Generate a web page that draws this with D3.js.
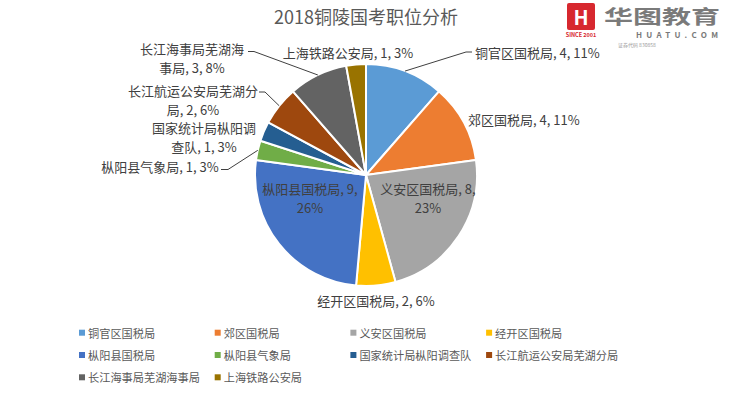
<!DOCTYPE html>
<html><head><meta charset="utf-8">
<script src="https://cdn.jsdelivr.net/npm/d3@7"></script>
<style>
html,body{margin:0;padding:0;background:#fff;}
svg{display:block;font-family:"Noto Sans CJK SC","Noto Sans",sans-serif;}
</style></head>
<body><svg id="c" width="735" height="393"></svg>
<script>
const title = "2018铜陵国考职位分析";
const categories = ["铜官区国税局","郊区国税局","义安区国税局","经开区国税局","枞阳县国税局","枞阳县气象局","国家统计局枞阳调查队","长江航运公安局芜湖分局","长江海事局芜湖海事局","上海铁路公安局"];
const values = [4,4,8,2,9,1,1,2,3,1];
const percents = ["11%","11%","23%","6%","26%","3%","3%","6%","8%","3%"];
const colors = ["#5B9BD5","#ED7D31","#A5A5A5","#FFC000","#4472C4","#70AD47","#255E91","#9E480E","#636363","#997300"];

// label layout (text lines, anchor, leader line)
const labelLayout = [
  {lines:["铜官区国税局, 4, 11%"], x:475, y:52, anchor:"start", leader:[[466,52],[472,52]]},
  {lines:["郊区国税局, 4, 11%"], x:468, y:119, anchor:"start"},
  {lines:["义安区国税局, 8,","23%"], x:428, y:188, anchor:"middle"},
  {lines:["经开区国税局, 2, 6%"], x:376, y:300, anchor:"middle"},
  {lines:["枞阳县国税局, 9,","26%"], x:310, y:188, anchor:"middle"},
  {lines:["枞阳县气象局, 1, 3%"], x:160, y:166, anchor:"middle", leader:[[228,169.5],[221,169.5]]},
  {lines:["国家统计局枞阳调","查队, 1, 3%"], x:204, y:127, anchor:"middle"},
  {lines:["长江航运公安局芜湖分","局, 2, 6%"], x:193, y:90, anchor:"middle", leader:[[265,92],[259,92]]},
  {lines:["长江海事局芜湖海","事局, 3, 8%"], x:192, y:48, anchor:"middle", leader:[[254,51.5],[248,51.5]]},
  {lines:["上海铁路公安局, 1, 3%"], x:348, y:52, anchor:"middle"}
];

const svg = d3.select("#c");
const cx = 366, cy = 175, R = 111;

svg.append("text").attr("x",366).attr("y",24).attr("text-anchor","middle")
  .attr("font-size",18).attr("fill","#595959").text(title);

// logo watermark
const logo = svg.append("g");
logo.append("rect").attr("x",567).attr("y",3).attr("width",28).attr("height",27).attr("rx",2).attr("fill","#D7282F");
logo.append("text").attr("x",581).attr("y",25).attr("text-anchor","middle").attr("font-size",20).attr("font-weight","bold").attr("fill","#fff").text("H");
logo.append("text").attr("x",581).attr("y",37).attr("text-anchor","middle").attr("font-size",5.5).attr("font-weight","bold").attr("fill","#D7282F").text("SINCE 2001");
logo.append("text").attr("x",604).attr("y",24).attr("font-size",19).attr("font-weight","bold").attr("fill","#7a7a7a").attr("textLength",116).attr("lengthAdjust","spacingAndGlyphs").text("华图教育");
logo.append("text").attr("x",636).attr("y",38).attr("font-size",8).attr("font-weight","bold").attr("fill","#7a7a7a").attr("textLength",82).attr("lengthAdjust","spacing").text("HUATU.COM");
logo.append("text").attr("x",618).attr("y",46.5).attr("font-size",5).attr("fill","#999").text("证券代码 830858");

const pie = d3.pie().sort(null).value(d=>d)(values);
const arc = d3.arc().innerRadius(0).outerRadius(R);
const g = svg.append("g").attr("transform",`translate(${cx},${cy})`);
g.selectAll("path").data(pie).join("path")
  .attr("d",arc).attr("fill",(d,i)=>colors[i])
  .attr("stroke","#fff").attr("stroke-width",2).attr("stroke-linejoin","round");

// leader lines
pie.forEach((d,i)=>{
  const L = labelLayout[i];
  if(!L.leader) return;
  const a = (d.startAngle+d.endAngle)/2;
  const px = cx + R*Math.sin(a), py = cy - R*Math.cos(a);
  const pts = [[px,py], ...L.leader];
  svg.append("path").attr("d", d3.line()(pts)).attr("fill","none")
    .attr("stroke","#404040").attr("stroke-width",1);
});

// labels
labelLayout.forEach((L,i)=>{
  const t = svg.append("text").attr("x",L.x).attr("y",L.y).attr("text-anchor",L.anchor)
    .attr("font-size",13).attr("fill","#404040").attr("dominant-baseline","central");
  L.lines.forEach((s,j)=>{
    t.append("tspan").attr("x",L.x).attr("dy", j===0?0:18.5).text(s);
  });
});

// legend
const lg = svg.append("g");
categories.forEach((c,i)=>{
  const col = i%4, row = Math.floor(i/4);
  const x = 79 + col*135.7, y = 332.7 + row*22.3;
  lg.append("rect").attr("x",x).attr("y",y-3).attr("width",6).attr("height",6).attr("fill",colors[i]);
  lg.append("text").attr("x",x+9).attr("y",y).attr("dominant-baseline","central")
    .attr("font-size",11.2).attr("fill","#595959").text(c);
});
</script></body></html>
